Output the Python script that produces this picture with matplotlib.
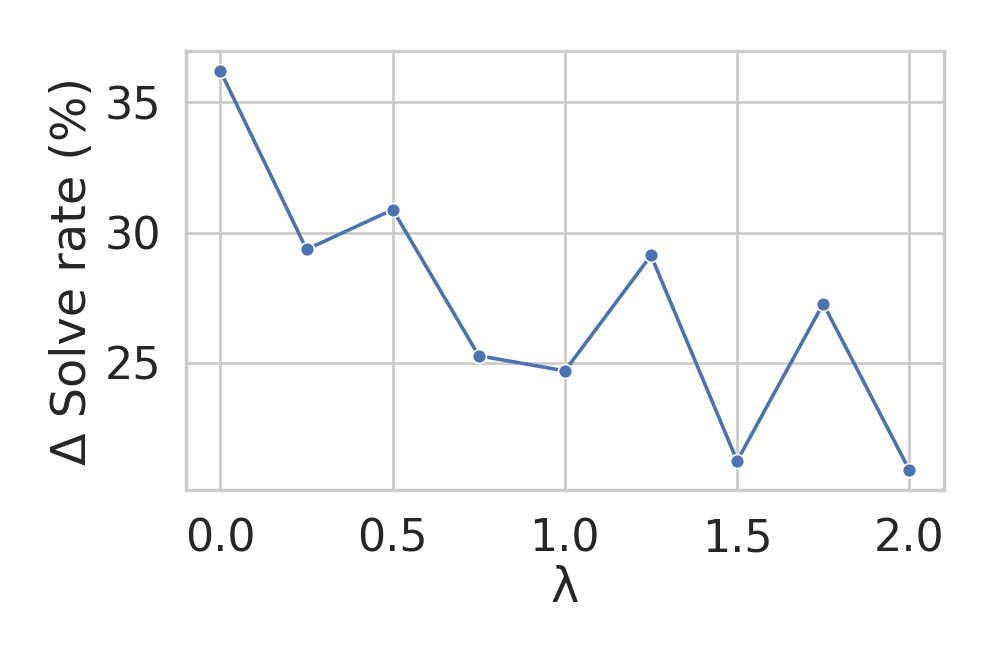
import matplotlib
matplotlib.use("Agg")
import matplotlib.pyplot as plt
import seaborn as sns

lambdas = [0.0, 0.25, 0.5, 0.75, 1.0, 1.25, 1.5, 1.75, 2.0]
delta_solve = [36.2, 29.35, 30.88, 25.27, 24.69, 29.12, 21.23, 27.27, 20.88]

sns.set_theme(style="whitegrid")

fig = plt.figure(figsize=(4.985, 3.32), dpi=200)
ax = fig.add_axes([0.1866, 0.262, 0.76, 0.661])

ax.plot(
    lambdas,
    delta_solve,
    color="#4c72b0",
    linewidth=1.3,
    marker="o",
    markersize=5,
    markeredgecolor="white",
    markeredgewidth=0.6,
)

ax.set_xticks([0.0, 0.5, 1.0, 1.5, 2.0])
ax.set_yticks([25, 30, 35])
ax.tick_params(axis="y", labelsize=16, pad=3)
ax.tick_params(axis="x", labelsize=16, pad=4)
ax.set_xlabel("λ", fontsize=17.2, labelpad=1.5)
ax.set_ylabel("Δ Solve rate (%)", fontsize=17.2, labelpad=3)

fig.savefig("out.png", dpi=200)
